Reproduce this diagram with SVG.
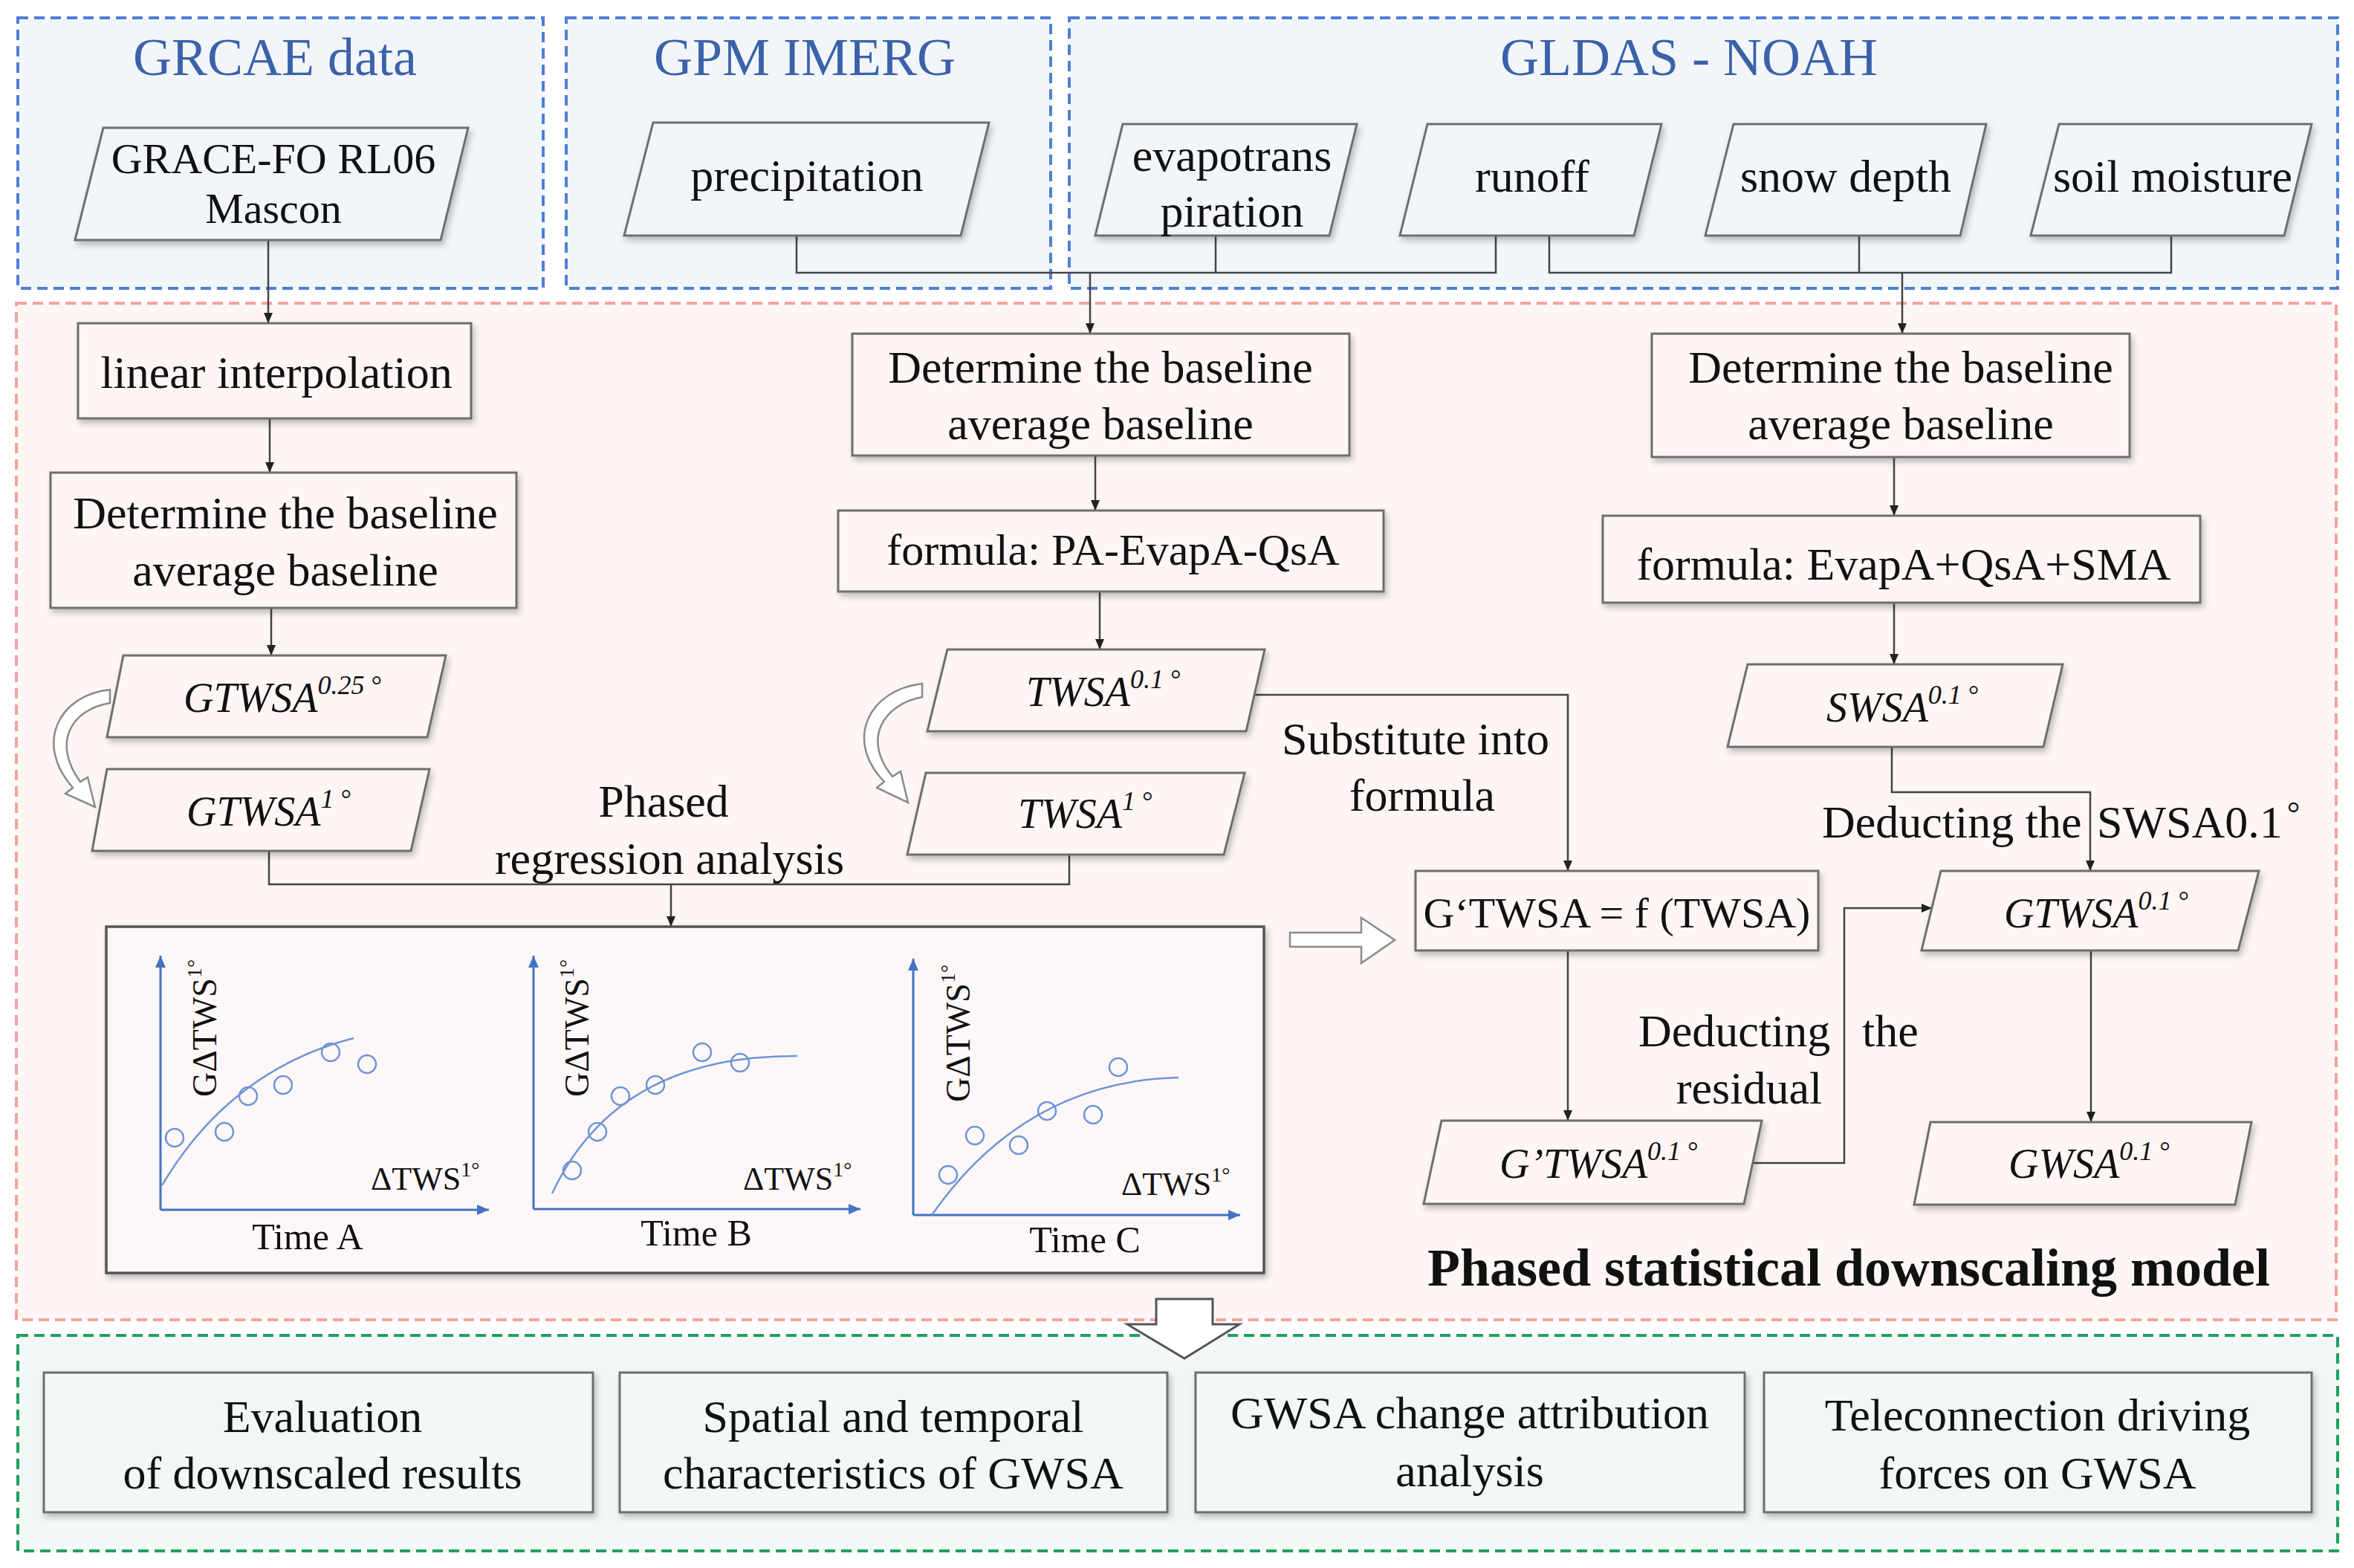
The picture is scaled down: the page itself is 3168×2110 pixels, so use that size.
<svg xmlns="http://www.w3.org/2000/svg" width="3168" height="2110" viewBox="0 0 3168 2110">
<defs>
<filter id="sh" x="-5%" y="-10%" width="115%" height="135%"><feDropShadow dx="3" dy="5" stdDeviation="4" flood-color="#000" flood-opacity="0.25"/></filter>
<marker id="ar" viewBox="0 0 14 12" markerWidth="14" markerHeight="12" refX="14" refY="6" orient="auto" markerUnits="userSpaceOnUse"><path d="M0,0 L14,6 L0,12 z" fill="#222"/></marker>
<marker id="ab" viewBox="0 0 16 14" markerWidth="16" markerHeight="14" refX="16" refY="7" orient="auto" markerUnits="userSpaceOnUse"><path d="M0,0 L16,7 L0,14 z" fill="#4472c4"/></marker>
<style>
.t{font-family:"Liberation Serif","Times New Roman",serif;fill:#111}
.tt{font-family:"Liberation Serif","Times New Roman",serif;fill:#3a62a8;font-size:72px;text-anchor:middle}
.b{font-size:62px}
.c{text-anchor:middle}
.i{font-style:italic;font-size:56px}
.sp{font-size:36px}
.box{fill:#fdf6f5;stroke:#6e6e6e;stroke-width:3;filter:url(#sh)}
.boxt{fill:#f2f6fb;stroke:#6e6e6e;stroke-width:3;filter:url(#sh)}
.boxg{fill:#f2f8f7;stroke:#6e6e6e;stroke-width:3;filter:url(#sh)}
.ln{fill:none;stroke:#444;stroke-width:2.5}
.bl{fill:none;stroke:#4472c4;stroke-width:3}
.cv{fill:none;stroke:#6f94d6;stroke-width:2.5}
.pt{fill:none;stroke:#6f94d6;stroke-width:2.5}
.ch{font-size:46px}
.hol{fill:#fff;stroke:#8a8a8a;stroke-width:2.5}
</style>
</defs>
<rect x="0" y="0" width="3168" height="2110" fill="#fff"/>

<g id="panels">
<rect x="24" y="24" width="707" height="364" fill="#f2f6fb" stroke="#4f7fd6" stroke-width="4" stroke-dasharray="14 8"/>
<rect x="762" y="24" width="652" height="364" fill="#f2f6fb" stroke="#4f7fd6" stroke-width="4" stroke-dasharray="14 8"/>
<rect x="1439" y="24" width="1707" height="364" fill="#f2f6fb" stroke="#4f7fd6" stroke-width="4" stroke-dasharray="14 8"/>
<rect x="22" y="408" width="3122" height="1368" fill="#fdf6f5" stroke="#f5a39c" stroke-width="4" stroke-dasharray="14 8"/>
<rect x="24" y="1797" width="3122" height="290" fill="#f2f8f7" stroke="#20a060" stroke-width="4" stroke-dasharray="14 8"/>
<text class="tt" x="370" y="101">GRCAE data</text>
<text class="tt" x="1083" y="101">GPM IMERG</text>
<text class="tt" x="2273" y="101">GLDAS - NOAH</text>
<text class="t c" x="2488" y="1730" style="font-size:72px;font-weight:bold">Phased statistical downscaling model</text>
</g>

<g id="connectors">
<path class="ln" d="M361,323 V435" marker-end="url(#ar)"/>
<path class="ln" d="M363,563 V636" marker-end="url(#ar)"/>
<path class="ln" d="M365,818 V882" marker-end="url(#ar)"/>
<path class="ln" d="M362,1145 V1190 H1439 V1150"/>
<path class="ln" d="M903,1190 V1247" marker-end="url(#ar)"/>
<path class="ln" d="M1072,317 V367 H2013 V317 M1636,317 V367"/>
<path class="ln" d="M1467,367 V449" marker-end="url(#ar)"/>
<path class="ln" d="M2085,317 V367 H2922 V317 M2502,317 V367"/>
<path class="ln" d="M2560,367 V449" marker-end="url(#ar)"/>
<path class="ln" d="M1474,613 V687" marker-end="url(#ar)"/>
<path class="ln" d="M1480,796 V874" marker-end="url(#ar)"/>
<path class="ln" d="M2549,615 V694" marker-end="url(#ar)"/>
<path class="ln" d="M2549,811 V894" marker-end="url(#ar)"/>
<path class="ln" d="M1689,935 H2110 V1172" marker-end="url(#ar)"/>
<path class="ln" d="M2546,1005 V1066 H2813 V1172" marker-end="url(#ar)"/>
<path class="ln" d="M2110,1279 V1508" marker-end="url(#ar)"/>
<path class="ln" d="M2358,1565 H2482 V1222 H2600" marker-end="url(#ar)"/>
<path class="ln" d="M2814,1279 V1510" marker-end="url(#ar)"/>
<path class="hol" d="M148,928 C80,935 45,1000 98,1060 L88,1068 L128,1086 L118,1046 L108,1052 C70,1000 95,955 148,946 Z"/>
<path class="hol" d="M1241,920 C1170,928 1135,995 1190,1052 L1180,1060 L1222,1080 L1212,1038 L1201,1045 C1160,995 1188,948 1241,938 Z"/>
<path class="hol" d="M1736,1255 H1832 V1235 L1877,1265 L1832,1296 V1274 H1736 Z"/>
<path d="M1556,1748 H1632 V1782 H1668 L1594,1828 L1517,1782 H1556 Z" fill="#fff" stroke="#555" stroke-width="3"/>
<text class="t b c" x="893" y="1099">Phased</text>
<text class="t b c" x="901" y="1176">regression analysis</text>
<text class="t b c" x="1905" y="1015">Substitute into</text>
<text class="t b c" x="1914" y="1091">formula</text>
<text class="t b" y="1127"><tspan x="2452">Deducting the</tspan><tspan x="2822">SWSA0.1</tspan><tspan dx="6" dy="-18" font-size="44">°</tspan></text>
<text class="t b" y="1408"><tspan x="2205">Deducting</tspan><tspan x="2506">the</tspan></text>
<text class="t b c" x="2354" y="1485">residual</text>
</g>

<g id="grace"><polygon class="boxt" points="139,172 630,172 593,323 101,323"/><text class="t b c" x="368" y="233" style="font-size:58px">GRACE-FO RL06</text><text class="t b c" x="368" y="300" style="font-size:58px">Mascon</text></g>
<g id="precipitation"><polygon class="boxt" points="879,165 1331,165 1293,317 840,317"/><text class="t b c" x="1086" y="257">precipitation</text></g>
<g id="evapotranspiration"><polygon class="boxt" points="1511,167 1826,167 1789,317 1474,317"/><text class="t b c" x="1658" y="230">evapotrans</text><text class="t b c" x="1658" y="305">piration</text></g>
<g id="runoff"><polygon class="boxt" points="1921,167 2236,167 2199,317 1884,317"/><text class="t b c" x="2062" y="258">runoff</text></g>
<g id="snow"><polygon class="boxt" points="2333,167 2673,167 2638,317 2295,317"/><text class="t b c" x="2484" y="258">snow depth</text></g>
<g id="soil"><polygon class="boxt" points="2771,167 3111,167 3074,317 2733,317"/><text class="t b c" x="2924" y="258">soil moisture</text></g>

<g id="linear"><rect class="box" x="105" y="435" width="529" height="128"/><text class="t b c" x="372" y="522">linear  interpolation</text></g>
<g id="det1"><rect class="box" x="68" y="636" width="627" height="182"/><text class="t b c" x="384" y="711">Determine the baseline</text><text class="t b c" x="384" y="788">average baseline</text></g>
<g id="gtwsa025"><polygon class="box" points="166,882 600,882 575,992 144,992"/><text class="t i" x="247" y="958">GTWSA<tspan class="sp" dy="-24">0.25<tspan dx="8">°</tspan></tspan></text></g>
<g id="gtwsa1"><polygon class="box" points="144,1035 578,1035 553,1145 124,1145"/><text class="t i" x="251" y="1111">GTWSA<tspan class="sp" dy="-24">1<tspan dx="8">°</tspan></tspan></text></g>

<g id="det2"><rect class="box" x="1147" y="449" width="669" height="164"/><text class="t b c" x="1481" y="515">Determine the baseline</text><text class="t b c" x="1481" y="591">average baseline</text></g>
<g id="fpa"><rect class="box" x="1128" y="687" width="734" height="109"/><text class="t b c" x="1498" y="760" style="font-size:60px">formula:  PA-EvapA-QsA</text></g>
<g id="twsa01"><polygon class="box" points="1275,874 1702,874 1677,984 1248,984"/><text class="t i" x="1381" y="950">TWSA<tspan class="sp" dy="-24">0.1<tspan dx="8">°</tspan></tspan></text></g>
<g id="twsa1"><polygon class="box" points="1246,1040 1675,1040 1647,1150 1221,1150"/><text class="t i" x="1370" y="1114">TWSA<tspan class="sp" dy="-24">1<tspan dx="8">°</tspan></tspan></text></g>

<g id="det3"><rect class="box" x="2223" y="449" width="643" height="166"/><text class="t b c" x="2558" y="515">Determine the baseline</text><text class="t b c" x="2558" y="591">average baseline</text></g>
<g id="fev"><rect class="box" x="2157" y="694" width="804" height="117"/><text class="t b c" x="2562" y="780">formula:  EvapA+QsA+SMA</text></g>
<g id="swsa01"><polygon class="box" points="2352,894 2776,894 2750,1005 2325,1005"/><text class="t i" x="2458" y="971">SWSA<tspan class="sp" dy="-24">0.1<tspan dx="8">°</tspan></tspan></text></g>

<g id="gtf"><rect class="box" x="1905" y="1172" width="542" height="107"/><text class="t c" x="2176" y="1248" style="font-size:58px">G‘TWSA = f (TWSA)</text></g>
<g id="gtwsa01"><polygon class="box" points="2612,1172 3040,1172 3012,1279 2586,1279"/><text class="t i" x="2697" y="1248">GTWSA<tspan class="sp" dy="-24">0.1<tspan dx="8">°</tspan></tspan></text></g>
<g id="gptwsa01"><polygon class="box" points="1940,1508 2371,1508 2347,1620 1916,1620"/><text class="t i" x="2018" y="1585">G’TWSA<tspan class="sp" dy="-24">0.1<tspan dx="8">°</tspan></tspan></text></g>
<g id="gwsa01"><polygon class="box" points="2598,1510 3030,1510 3008,1621 2576,1621"/><text class="t i" x="2703" y="1585">GWSA<tspan class="sp" dy="-24">0.1<tspan dx="8">°</tspan></tspan></text></g>

<g id="charts">
<rect x="143" y="1247" width="1558" height="466" fill="#fdf8f7" stroke="#555" stroke-width="3.5" filter="url(#sh)"/>
<path class="bl" d="M216,1628 V1286" marker-end="url(#ab)"/>
<path class="bl" d="M216,1628 H658" marker-end="url(#ab)"/>
<path class="cv" d="M218,1595 Q310,1440 476,1397"/>
<g class="pt"><circle cx="235" cy="1531" r="12"/><circle cx="302" cy="1523" r="12"/><circle cx="334" cy="1475" r="12"/><circle cx="381" cy="1460" r="12"/><circle cx="445" cy="1416" r="12"/><circle cx="494" cy="1432" r="12"/></g>
<text class="t ch" transform="translate(291,1476) rotate(-90)">GΔTWS<tspan font-size="28" dy="-20">1°</tspan></text>
<text class="t" x="499" y="1601" font-size="44">ΔTWS<tspan font-size="28" dy="-18">1°</tspan></text>
<text class="t c" x="414" y="1681" font-size="50">Time A</text>

<path class="bl" d="M718,1627 V1286" marker-end="url(#ab)"/>
<path class="bl" d="M718,1627 H1158" marker-end="url(#ab)"/>
<path class="cv" d="M743,1606 Q830,1420 1073,1421"/>
<g class="pt"><circle cx="770" cy="1575" r="12"/><circle cx="804" cy="1523" r="12"/><circle cx="835" cy="1475" r="12"/><circle cx="882" cy="1460" r="12"/><circle cx="945" cy="1416" r="12"/><circle cx="996" cy="1430" r="12"/></g>
<text class="t ch" transform="translate(792,1476) rotate(-90)">GΔTWS<tspan font-size="28" dy="-20">1°</tspan></text>
<text class="t" x="1000" y="1601" font-size="44">ΔTWS<tspan font-size="28" dy="-18">1°</tspan></text>
<text class="t c" x="937" y="1676" font-size="50">Time B</text>

<path class="bl" d="M1229,1635 V1290" marker-end="url(#ab)"/>
<path class="bl" d="M1229,1635 H1669" marker-end="url(#ab)"/>
<path class="cv" d="M1254,1635 Q1380,1455 1586,1450"/>
<g class="pt"><circle cx="1276" cy="1581" r="12"/><circle cx="1312" cy="1528" r="12"/><circle cx="1371" cy="1541" r="12"/><circle cx="1409" cy="1495" r="12"/><circle cx="1471" cy="1500" r="12"/><circle cx="1505" cy="1436" r="12"/></g>
<text class="t ch" transform="translate(1305,1483) rotate(-90)">GΔTWS<tspan font-size="28" dy="-20">1°</tspan></text>
<text class="t" x="1509" y="1608" font-size="44">ΔTWS<tspan font-size="28" dy="-18">1°</tspan></text>
<text class="t c" x="1460" y="1685" font-size="50">Time C</text>
</g>

<g id="eval"><rect class="boxg" x="59" y="1847" width="739" height="188"/><text class="t b c" x="434" y="1927">Evaluation</text><text class="t b c" x="434" y="2003">of downscaled results</text></g>
<g id="spatial"><rect class="boxg" x="834" y="1847" width="737" height="188"/><text class="t b c" x="1202" y="1927">Spatial and temporal</text><text class="t b c" x="1202" y="2003">characteristics of GWSA</text></g>
<g id="attrib"><rect class="boxg" x="1609" y="1847" width="739" height="188"/><text class="t b c" x="1978" y="1922">GWSA change attribution</text><text class="t b c" x="1978" y="2000">analysis</text></g>
<g id="telecon"><rect class="boxg" x="2374" y="1847" width="737" height="188"/><text class="t b c" x="2742" y="1925">Teleconnection driving</text><text class="t b c" x="2742" y="2003">forces on GWSA</text></g>
</svg>
